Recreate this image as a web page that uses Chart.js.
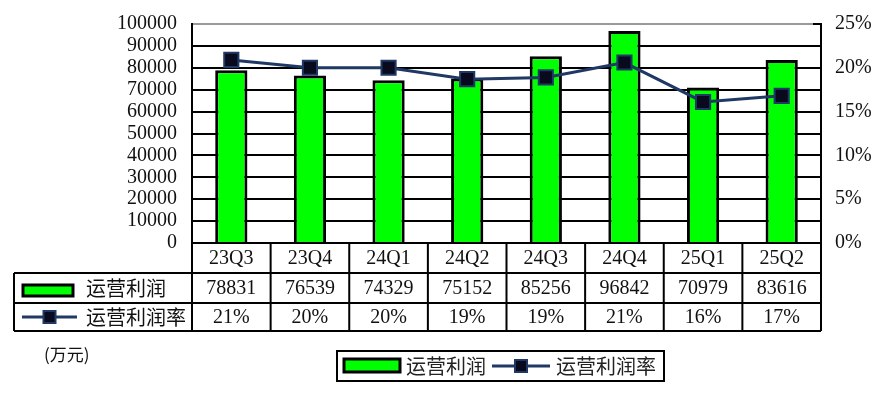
<!DOCTYPE html>
<html>
<head>
<meta charset="utf-8">
<script src="https://cdn.jsdelivr.net/npm/chart.js@4"></script>
<style>
  body { margin: 0; background: #fff; }
  #wrap { width: 878px; height: 396px; position: relative; }
</style>
</head>
<body>
<div id="wrap"><canvas id="profit-chart"></canvas></div>
<script>
const quarters = ["23Q3", "23Q4", "24Q1", "24Q2", "24Q3", "24Q4", "25Q1", "25Q2"];
const profit = [78831, 76539, 74329, 75152, 85256, 96842, 70979, 83616];
// margin, labels from the table
const margin = [0.209, 0.200, 0.200, 0.187, 0.189, 0.206, 0.161, 0.168];
const marginLabels = ["21%", "20%", "20%", "19%", "19%", "21%", "16%", "17%"];
const profitName = "运营利润";
const marginName = "运营利润率";
const unitLabel = "(万元)";

const green = '#00ff00';
const navy = '#1f3864';
const serif = '"Liberation Serif", "DejaVu Serif", serif';
const cjk = '"Noto Sans CJK SC", sans-serif';

function drawBarKey(ctx, x, y, w, h) {
    ctx.fillStyle = green;
    ctx.fillRect(x, y, w, h);
    ctx.lineWidth = 3;
    ctx.strokeStyle = '#000';
    ctx.strokeRect(x, y, w, h);
}

function drawLineKey(ctx, x1, x2, y) {
    ctx.strokeStyle = navy;
    ctx.lineWidth = 3;
    ctx.beginPath();
    ctx.moveTo(x1, y);
    ctx.lineTo(x2, y);
    ctx.stroke();
    const cx = (x1 + x2) / 2;
    ctx.fillStyle = '#0a0a1e';
    ctx.fillRect(cx - 6, y - 6, 12, 12);
    ctx.lineWidth = 2;
    ctx.strokeRect(cx - 6, y - 6, 12, 12);
}

const tablePlugin = {
    id: 'dataTable',
    afterDraw(chart) {
        const ctx = chart.ctx;
        const area = chart.chartArea;
        const xs = chart.scales.x;
        const top = area.bottom;
        const rows = [top, top + 30, top + 60, top + 88];
        const tableLeft = 14;

        let edges = [area.left];
        for (let i = 0; i < quarters.length - 1; i++) {
            edges.push((xs.getPixelForValue(i) + xs.getPixelForValue(i + 1)) / 2);
        }
        edges.push(area.right);

        ctx.save();
        ctx.strokeStyle = '#000';
        ctx.lineWidth = 2;
        ctx.beginPath();
        for (let r = 1; r < rows.length; r++) {
            ctx.moveTo(tableLeft, rows[r]);
            ctx.lineTo(area.right, rows[r]);
        }
        ctx.moveTo(tableLeft, rows[1]);
        ctx.lineTo(tableLeft, rows[3]);
        edges.forEach(e => {
            ctx.moveTo(e, rows[0]);
            ctx.lineTo(e, rows[3]);
        });
        // short inner tick at the top of the right axis
        ctx.moveTo(area.right - 8, area.top);
        ctx.lineTo(area.right, area.top);
        ctx.stroke();

        ctx.fillStyle = '#111';
        ctx.textAlign = 'center';
        ctx.textBaseline = 'middle';
        ctx.font = '20px ' + serif;
        quarters.forEach((q, i) => {
            const cx = xs.getPixelForValue(i);
            ctx.fillText(q, cx, (rows[0] + rows[1]) / 2 + 1);
            ctx.fillText(String(profit[i]), cx, (rows[1] + rows[2]) / 2 + 1);
            ctx.fillText(marginLabels[i], cx, (rows[2] + rows[3]) / 2 + 1);
        });

        // series keys in the first column
        drawBarKey(ctx, 23, rows[1] + 12, 50, 11);
        drawLineKey(ctx, 22, 77, (rows[2] + rows[3]) / 2);
        ctx.fillStyle = '#111';
        ctx.textAlign = 'left';
        ctx.font = '20px ' + cjk;
        ctx.fillText(profitName, 86, (rows[1] + rows[2]) / 2);
        ctx.fillText(marginName, 86, (rows[2] + rows[3]) / 2);

        // unit label
        ctx.font = '17px ' + cjk;
        ctx.fillText(unitLabel, 44, 355);

        // legend box
        ctx.lineWidth = 2;
        ctx.strokeStyle = '#000';
        ctx.strokeRect(337, 351, 327, 30);
        drawBarKey(ctx, 344, 359, 56, 13);
        drawLineKey(ctx, 492, 550, 366);
        ctx.fillStyle = '#222';
        ctx.font = '20px ' + cjk;
        ctx.fillText(profitName, 406, 366);
        ctx.fillText(marginName, 556, 366);
        ctx.restore();
    }
};

const profitCanvas = document.getElementById('profit-chart');

let profitData = {
    labels: quarters,
    datasets: [{
        type: 'line',
        data: margin,
        yAxisID: 'y1',
        order: 0,
        borderColor: navy,
        borderWidth: 3,
        tension: 0,
        pointStyle: 'rect',
        pointRadius: 10,
        pointBackgroundColor: '#0a0a1e',
        pointBorderColor: navy,
        pointBorderWidth: 2
    }, {
        type: 'bar',
        data: profit,
        yAxisID: 'y',
        order: 1,
        backgroundColor: green,
        borderColor: '#000',
        borderWidth: 3,
        barPercentage: 0.41,
        categoryPercentage: 1
    }]
};

let profitOptions = {
    responsive: true,
    maintainAspectRatio: false,
    animation: false,
    layout: {
        padding: { top: 24, bottom: 153, left: 0, right: 0 }
    },
    scales: {
        x: {
            display: false
        },
        y: {
            position: 'left',
            min: 0,
            max: 100000,
            afterFit(scale) {
                scale.width = 192;
                scale.paddingTop = 0;
                scale.paddingBottom = 0;
            },
            ticks: {
                stepSize: 10000,
                autoSkip: false,
                color: '#111',
                padding: 15,
                font: { family: serif, size: 20 },
                callback: v => String(v)
            },
            grid: {
                drawTicks: false,
                lineWidth: 2,
                color: c => c.tick && c.tick.value === 100000 ? '#999' : '#000'
            },
            border: { display: true, color: '#000', width: 2 }
        },
        y1: {
            position: 'right',
            min: 0,
            max: 0.25,
            afterFit(scale) {
                scale.width = 57;
                scale.paddingTop = 0;
                scale.paddingBottom = 0;
            },
            ticks: {
                stepSize: 0.05,
                autoSkip: false,
                color: '#111',
                padding: 14,
                font: { family: serif, size: 20 },
                callback: v => Math.round(v * 100) + '%'
            },
            grid: { display: false, drawTicks: false },
            border: { display: true, color: '#000', width: 2 }
        }
    },
    plugins: {
        legend: { display: false },
        tooltip: { enabled: false }
    }
};

let profitChart = new Chart(profitCanvas, {
    data: profitData,
    options: profitOptions,
    plugins: [tablePlugin]
});
</script>
</body>
</html>
